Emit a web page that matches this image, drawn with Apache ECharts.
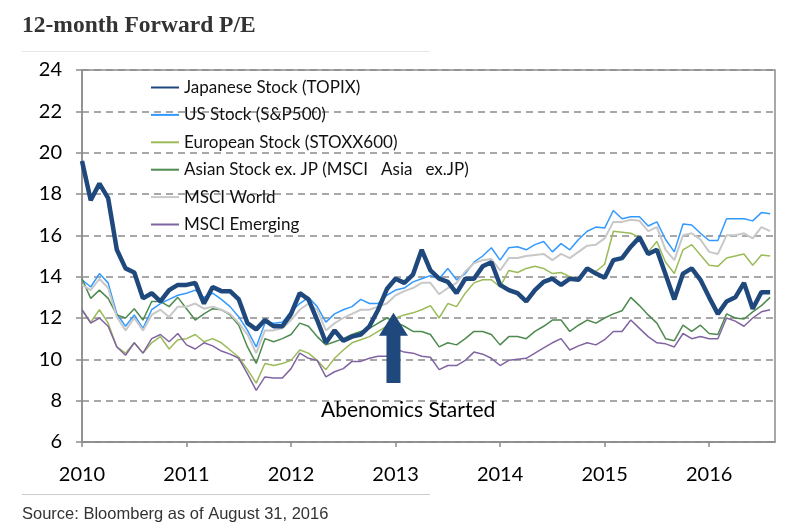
<!DOCTYPE html>
<html><head><meta charset="utf-8">
<script src="https://cdn.jsdelivr.net/npm/echarts@6/dist/echarts.min.js"></script>
<style>html,body{margin:0;padding:0;background:#fff}#c{width:800px;height:531px}</style>
</head><body><div id="c"></div><script>
const startYear = 2010; // monthly data from Jan 2010 to Aug 2016
const seriesNames = ['Japanese Stock (TOPIX)', 'US Stock (S&P500)', 'European Stock (STOXX600)',
  'Asian Stock ex. JP (MSCI   Asia   ex.JP)', 'MSCI World', 'MSCI Emerging'];
const yearTicks = [2010, 2011, 2012, 2013, 2014, 2015, 2016];

const topix = [19.6,17.7,18.5,17.8,15.3,14.4,14.2,12.95,13.2,12.8,
  13.35,13.6,13.6,13.7,12.7,13.5,13.3,13.3,12.9,11.75,
  11.45,11.9,11.6,11.6,12.2,13.2,12.9,11.9,10.8,11.4,
  10.9,11.1,11.2,11.6,12.4,13.4,13.9,13.7,14.1,15.3,
  14.3,13.9,13.75,13.2,13.9,13.9,14.5,14.7,13.6,13.35,
  13.2,12.8,13.35,13.75,13.9,13.6,13.9,13.85,14.4,14.15,
  13.95,14.8,14.9,15.45,15.9,15.1,15.3,14.1,12.9,14.15,
  14.4,13.85,13.0,12.2,12.8,13.0,13.7,12.45,13.25,13.25];
const us = [13.85,13.5,14.15,13.7,12.2,11.6,12.15,11.5,12.4,12.7,
  12.9,13.1,13.2,13.35,13.0,13.2,12.9,12.55,12.05,11.4,
  10.6,11.75,11.75,11.8,12.3,12.7,13.0,12.55,11.8,12.2,
  12.4,12.55,12.9,12.7,12.7,13.1,13.35,13.45,13.75,13.9,
  14.05,13.9,14.4,13.85,14.15,14.7,15.0,15.4,14.8,15.4,
  15.45,15.3,15.55,15.7,15.2,15.6,15.3,15.8,16.2,16.4,
  16.35,17.2,16.8,16.9,16.9,16.45,16.65,15.8,15.2,16.55,
  16.5,16.1,15.75,15.75,16.8,16.8,16.8,16.7,17.1,17.05];
const europe = [12.4,11.8,12.4,11.75,10.6,10.3,10.8,10.3,10.8,11.1,
  10.5,10.95,11.0,11.2,10.85,11.0,10.8,10.45,10.1,9.5,
  8.85,9.8,9.7,9.8,9.95,10.45,10.3,9.95,9.5,10.05,
  10.45,10.8,10.95,11.1,11.35,11.6,12.0,12.15,12.25,12.4,
  12.6,12.0,12.7,12.55,13.2,13.7,13.85,13.85,13.5,14.3,
  14.2,14.4,14.5,14.4,14.15,14.2,14.0,13.9,14.4,14.25,
  14.6,16.2,16.15,16.1,15.9,15.2,15.7,14.7,14.15,15.3,
  15.55,15.05,14.55,14.5,14.9,15.0,15.1,14.55,15.05,15.0];
const asia = [13.9,12.95,13.35,12.95,12.15,12.0,12.45,11.9,12.8,12.8,
  12.55,13.0,12.45,11.9,12.2,12.45,12.4,12.15,11.65,10.6,
  9.8,11.0,10.85,11.0,11.2,11.75,11.6,11.1,10.7,10.85,
  11.0,11.2,11.35,11.5,11.75,12.0,11.8,11.6,11.35,11.35,
  11.2,10.6,10.8,10.7,11.0,11.35,11.35,11.2,10.7,11.1,
  11.1,11.0,11.35,11.6,11.9,11.9,11.35,11.65,11.9,11.75,
  12.0,12.2,12.35,13.0,12.6,12.15,11.75,11.0,10.9,11.65,
  11.35,11.65,11.25,11.2,12.2,12.0,11.95,12.3,12.6,13.0];
const world = [13.6,13.35,13.9,13.45,12.05,11.4,12.0,11.4,12.15,12.4,
  12.05,12.55,12.55,12.7,12.45,12.55,12.4,12.2,11.75,11.2,
  10.3,11.4,11.4,11.5,11.9,12.4,12.7,12.4,11.4,11.75,
  12.0,12.2,12.4,12.4,12.55,12.7,13.1,13.3,13.45,13.7,
  13.7,13.15,13.45,13.7,14.25,14.65,14.8,14.85,14.3,14.9,
  14.9,15.0,15.05,15.1,14.8,15.1,14.9,15.2,15.5,15.55,
  15.85,16.65,16.65,16.75,16.7,16.2,16.4,15.3,14.8,16.0,
  16.1,15.8,15.2,15.1,16.0,16.0,16.1,15.85,16.4,16.2];
const emerging = [12.4,11.75,12.0,11.6,10.6,10.2,10.8,10.3,11.0,11.2,
  10.85,11.25,10.7,10.5,10.8,10.65,10.4,10.25,10.05,9.3,
  8.5,9.15,9.1,9.1,9.55,10.3,10.05,9.95,9.15,9.4,
  9.55,9.9,9.9,10.05,10.15,10.15,10.5,10.35,10.3,10.15,
  10.1,9.5,9.7,9.7,9.95,10.35,10.25,10.05,9.7,9.95,
  10.0,10.05,10.3,10.55,10.8,11.0,10.45,10.65,10.8,10.7,
  10.95,11.35,11.35,11.9,11.5,11.1,10.8,10.75,10.6,11.25,
  11.0,11.1,11.0,11.0,12.0,11.85,11.6,12.0,12.3,12.4];

// annotation: arrow at start of Abenomics
const arrowYear = 2012.98, arrowBase = 8.85, arrowTip = 12.25;
const noteText = 'Abenomics Started', noteYear = 2013.12, noteValue = 7.55;

const toPairs = arr => arr.map((v, i) => [startYear + i / 12, v]);
const colors = ['#1f487c', '#3399ff', '#9bbb59', '#4f8a4f', '#c8c8c8', '#8064a2'];
const widths = [4.5, 1.5, 1.5, 1.5, 2, 1.5];
const allData = [topix, us, europe, asia, world, emerging];

const lineSeries = allData.map((d, i) => ({
  name: seriesNames[i], type: 'line', data: toPairs(d), symbol: 'none',
  lineStyle: { color: colors[i], width: widths[i] }, itemStyle: { color: colors[i] },
  z: i === 0 ? 5 : 3, animation: false
}));

const chart = echarts.init(document.getElementById('c'));
chart.setOption({
  animation: false,
  backgroundColor: '#fff',
  title: [
    { text: '12-month Forward P/E', left: 17, top: 9,
      textStyle: { fontFamily: 'Liberation Serif', fontWeight: 'bold', fontSize: 23.5, color: '#333' } },
    { text: 'Source: Bloomberg as of August 31, 2016', left: 17, top: 501,
      textStyle: { fontFamily: 'Liberation Sans', fontWeight: 'normal', fontSize: 16.5, color: '#333' } }
  ],
  graphic: [
    { type: 'line', shape: { x1: 22, y1: 51.5, x2: 430, y2: 51.5 }, style: { stroke: '#e6e6e6', lineWidth: 1 } },
    { type: 'line', shape: { x1: 22, y1: 494.5, x2: 430, y2: 494.5 }, style: { stroke: '#cccccc', lineWidth: 1 } }
  ],
  legend: {
    orient: 'vertical', left: 145, top: 74, itemWidth: 28, itemHeight: 14, itemGap: 10.4,
    data: seriesNames,
    itemStyle: { opacity: 0 },
    textStyle: { fontFamily: 'Lato', fontSize: 17, lineHeight: 14, color: '#111' }
  },
  grid: { left: 82, right: 25, top: 70, bottom: 89, show: true, borderColor: '#8c8c8c', borderWidth: 1.5 },
  xAxis: {
    type: 'value', min: 2010, max: 2016.63, interval: 1,
    axisLine: { lineStyle: { color: '#8c8c8c', width: 1.5 } },
    axisTick: { show: true, length: 5, lineStyle: { color: '#8c8c8c', width: 1.5 } },
    splitLine: { show: false },
    axisLabel: { margin: 23, fontFamily: 'Lato', fontSize: 20, color: '#000', showMaxLabel: false,
      formatter: v => (yearTicks.indexOf(Math.round(v * 1000) / 1000) >= 0 ? String(v) : '') }
  },
  yAxis: {
    type: 'value', min: 6, max: 24, interval: 2,
    axisLine: { show: true, lineStyle: { color: '#8c8c8c', width: 1.5 } },
    axisTick: { show: true, length: 6, lineStyle: { color: '#8c8c8c', width: 1.5 } },
    splitLine: { show: true, lineStyle: { color: '#8c8c8c', width: 1.5, type: [7, 5] } },
    axisLabel: { margin: 20, fontFamily: 'Lato', fontSize: 20, color: '#000' }
  },
  series: lineSeries.concat([{
    type: 'custom', name: 'note', z: 6, silent: true,
    data: [[arrowYear, arrowBase, arrowTip]],
    renderItem: (params, api) => {
      const b = api.coord([api.value(0), api.value(1)]);
      const t = api.coord([api.value(0), api.value(2)]);
      const sw = 7, hw = 14.5, hl = 23;
      const pts = [[t[0], t[1]], [t[0] + hw, t[1] + hl], [t[0] + sw, t[1] + hl], [b[0] + sw, b[1]],
                   [b[0] - sw, b[1]], [t[0] - sw, t[1] + hl], [t[0] - hw, t[1] + hl]];
      const tp = api.coord([noteYear, noteValue]);
      return { type: 'group', children: [
        { type: 'polygon', shape: { points: pts }, style: { fill: '#1f487c' } },
        { type: 'text', x: tp[0], y: tp[1], style: { text: noteText, fontFamily: 'Lato', fontSize: 21,
          fill: '#000', align: 'center', verticalAlign: 'middle' } }
      ] };
    }
  }])
});
</script></body></html>
